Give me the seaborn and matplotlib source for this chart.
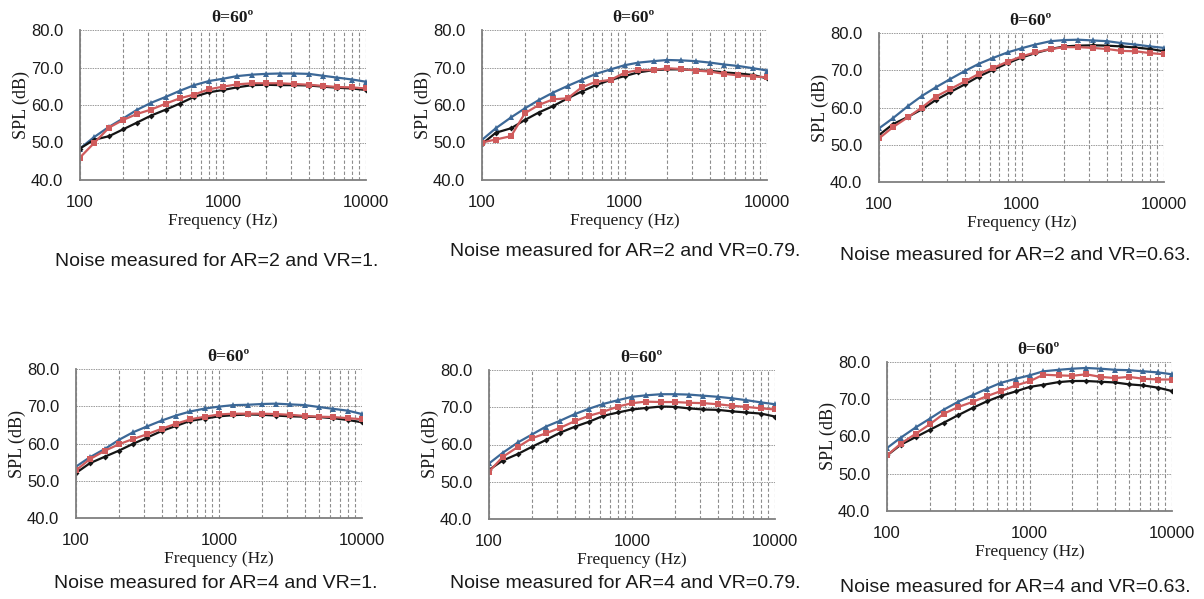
import numpy as np
import pandas as pd
import seaborn as sns
import matplotlib
matplotlib.use("Agg")
import matplotlib.pyplot as plt
from matplotlib.ticker import LogLocator, FixedLocator, NullFormatter

# set the theme to seaborn (white, we draw our own grid)
sns.set_theme(style="white")
plt.rcParams['font.family'] = ['Liberation Sans', 'DejaVu Sans']

# 1/3 octave band centre frequencies
freq = [100, 125, 160, 200, 250, 315, 400, 500, 630, 800, 1000,
        1250, 1600, 2000, 2500, 3150, 4000, 5000, 6300, 8000, 10000]

# AR=2, VR=1
ar2_vr1_blue = [48.4, 51.4, 54.2, 56.4, 58.7, 60.6, 62.2, 63.8, 65.3, 66.4, 67.0,
                67.7, 68.1, 68.3, 68.4, 68.4, 68.3, 67.8, 67.3, 66.8, 66.2]
ar2_vr1_red = [46.0, 49.8, 54.0, 56.0, 57.6, 58.8, 60.4, 61.8, 62.8, 64.2, 64.9,
               65.5, 65.8, 65.8, 65.8, 65.6, 65.4, 65.1, 64.8, 64.7, 64.4]
ar2_vr1_black = [48.4, 50.7, 51.7, 53.5, 55.3, 57.2, 58.8, 60.4, 62.2, 63.4, 64.0,
                 64.7, 65.3, 65.4, 65.3, 65.3, 65.2, 64.9, 64.6, 64.4, 64.0]

# AR=2, VR=0.79
ar2_vr079_blue = [50.7, 53.8, 56.7, 59.1, 61.3, 63.3, 65.1, 66.7, 68.3, 69.5, 70.6,
                  71.3, 71.7, 72.0, 71.9, 71.7, 71.3, 70.8, 70.4, 69.8, 69.2]
ar2_vr079_red = [50.0, 50.8, 51.7, 57.8, 60.0, 61.5, 61.8, 64.7, 66.2, 66.7, 68.6,
                 69.3, 69.3, 69.8, 69.6, 69.2, 68.9, 68.3, 67.9, 67.6, 67.4]
ar2_vr079_black = [49.6, 52.6, 53.8, 56.0, 58.0, 59.7, 61.8, 63.6, 65.3, 66.7, 67.7,
                   68.7, 69.3, 69.5, 69.5, 69.3, 69.1, 68.7, 68.4, 68.0, 67.1]

# AR=2, VR=0.63
ar2_vr063_blue = [54.4, 57.1, 60.4, 63.1, 65.4, 67.6, 69.8, 71.7, 73.3, 74.8, 75.9,
                  76.9, 77.8, 78.1, 78.2, 78.0, 77.8, 77.3, 76.9, 76.4, 76.0]
ar2_vr063_red = [51.7, 54.7, 57.4, 60.0, 62.9, 64.9, 67.0, 69.0, 70.6, 72.3, 73.7,
                 74.8, 75.7, 76.2, 76.2, 76.0, 75.7, 75.2, 75.1, 74.6, 74.3]
ar2_vr063_black = [52.6, 55.5, 57.5, 59.5, 62.0, 64.1, 66.2, 68.3, 70.1, 71.9, 73.4,
                   74.6, 75.7, 76.4, 76.6, 76.7, 76.6, 76.4, 76.1, 75.7, 75.1]

# AR=4, VR=1
ar4_vr1_blue = [53.8, 56.3, 58.6, 61.0, 63.0, 64.6, 66.2, 67.5, 68.6, 69.4, 69.9,
                70.3, 70.4, 70.6, 70.7, 70.5, 70.3, 69.8, 69.3, 68.8, 67.9]
ar4_vr1_red = [52.8, 55.8, 58.1, 59.8, 61.2, 62.5, 64.0, 65.3, 66.5, 67.2, 67.8,
               68.0, 68.0, 68.0, 67.9, 67.7, 67.4, 67.2, 67.1, 66.8, 66.5]
ar4_vr1_black = [52.1, 54.7, 56.5, 58.1, 59.9, 61.6, 63.4, 64.7, 66.1, 66.7, 67.3,
                 67.6, 67.8, 67.7, 67.5, 67.3, 67.2, 67.1, 66.8, 66.3, 65.7]

# AR=4, VR=0.79
ar4_vr079_blue = [54.9, 57.8, 60.6, 62.7, 64.8, 66.4, 68.2, 69.6, 70.9, 71.9, 72.8,
                  73.2, 73.5, 73.5, 73.4, 73.1, 72.8, 72.4, 71.9, 71.3, 70.8]
ar4_vr079_red = [52.7, 56.7, 59.4, 61.7, 63.0, 64.5, 66.3, 67.7, 68.8, 70.2, 71.1,
                 71.5, 71.4, 71.4, 71.2, 71.1, 70.8, 70.4, 70.1, 69.7, 69.4]
ar4_vr079_black = [53.2, 55.7, 57.5, 59.4, 61.2, 63.2, 64.8, 66.1, 67.7, 68.6, 69.4,
                   69.8, 70.2, 70.1, 69.7, 69.4, 69.3, 68.9, 68.6, 68.3, 67.5]

# AR=4, VR=0.63
ar4_vr063_blue = [56.9, 59.7, 62.5, 64.8, 67.2, 69.3, 71.1, 72.8, 74.4, 75.5, 76.4,
                  77.5, 77.9, 78.2, 78.4, 78.2, 77.9, 77.8, 77.5, 77.2, 76.7]
ar4_vr063_red = [54.9, 58.1, 60.8, 63.3, 66.1, 67.9, 69.3, 70.8, 72.2, 73.7, 74.8,
                 76.6, 76.4, 76.3, 76.7, 76.0, 75.7, 76.0, 75.5, 75.3, 75.3]
ar4_vr063_black = [54.9, 57.8, 59.9, 61.8, 63.7, 65.7, 67.7, 69.4, 70.9, 72.1, 73.3,
                   73.9, 74.6, 74.9, 74.9, 74.7, 74.5, 74.0, 73.7, 73.1, 72.2]

captions = ["Noise measured for AR=2 and VR=1.",
            "Noise measured for AR=2 and VR=0.79.",
            "Noise measured for AR=2 and VR=0.63.",
            "Noise measured for AR=4 and VR=1.",
            "Noise measured for AR=4 and VR=0.79.",
            "Noise measured for AR=4 and VR=0.63."]

panels = [(ar2_vr1_blue, ar2_vr1_red, ar2_vr1_black),
          (ar2_vr079_blue, ar2_vr079_red, ar2_vr079_black),
          (ar2_vr063_blue, ar2_vr063_red, ar2_vr063_black),
          (ar4_vr1_blue, ar4_vr1_red, ar4_vr1_black),
          (ar4_vr079_blue, ar4_vr079_red, ar4_vr079_black),
          (ar4_vr063_blue, ar4_vr063_red, ar4_vr063_black)]

W, H = 1204, 599
# axes boxes in pixels: left, right, top, bottom
boxes = [(80, 366, 30, 180), (482, 767, 30, 180), (879, 1164, 33, 182),
         (76, 362, 369, 518), (489, 775, 370, 519), (887, 1172, 362, 511)]
# caption centre (x, y) in pixels
cap_pos = [(217, 262), (625, 251), (1015, 255), (216, 584), (625, 584), (1015, 588)]

c_blue = '#3c6897'
c_red = '#cf5b5c'
c_black = '#151515'
grid_c = '#8c8c8c'

fig = plt.figure(figsize=(W / 100, H / 100), dpi=100)

for i, (blue, red, black) in enumerate(panels):
    l, r, t, b = boxes[i]
    ax = fig.add_axes([l / W, 1 - b / H, (r - l) / W, (b - t) / H])

    sns.lineplot(x=freq, y=blue, ax=ax, color=c_blue, marker='^', markersize=4.5,
                 markeredgewidth=0, linewidth=1.6)
    sns.lineplot(x=freq, y=black, ax=ax, color=c_black, marker='D', markersize=3,
                 markeredgewidth=0, linewidth=1.6)
    sns.lineplot(x=freq, y=red, ax=ax, color=c_red, marker='s', markersize=4.5,
                 markeredgewidth=0, linewidth=1.6)

    ax.set_xscale('log')
    ax.set_xlim(100, 10000)
    ax.set_ylim(40, 80)
    ax.set_yticks([40, 50, 60, 70, 80])
    ax.set_yticklabels(['40.0', '50.0', '60.0', '70.0', '80.0'])
    ax.xaxis.set_major_locator(FixedLocator([100, 1000, 10000]))
    ax.set_xticklabels(['100', '1000', '10000'])
    ax.xaxis.set_minor_locator(LogLocator(base=10, subs=np.arange(2, 10)))
    ax.xaxis.set_minor_formatter(NullFormatter())

    # dashed gray grid
    ax.grid(True, which='major', axis='y', color='#9a9a9a', linestyle=(0, (1.5, 1)), linewidth=0.7)
    ax.grid(True, which='both', axis='x', color=grid_c, linestyle=(0, (3, 2)), linewidth=0.8)
    ax.set_axisbelow(True)
    for side in ['top', 'right']:
        ax.spines[side].set_visible(False)
    for side in ['left', 'bottom']:
        ax.spines[side].set_color('#7f7f7f')
        ax.spines[side].set_linewidth(1.3)
    ax.tick_params(axis='y', which='both', length=0, labelsize=12,
                   colors='#1a1a1a', pad=12)
    ax.tick_params(axis='x', which='both', length=0, labelsize=12,
                   colors='#1a1a1a', pad=11)

    ax.set_xlabel('Frequency (Hz)', family=['Liberation Serif'], fontsize=12.5,
                  color='#1a1a1a', labelpad=2)
    ax.set_ylabel('SPL (dB)', family=['Liberation Serif'], fontsize=13,
                  color='#1a1a1a', labelpad=1)

    # title a bit right of centre as in the reference
    fig.text((l + r) / 2 / W + 9 / W, 1 - (t - 12) / H, 'θ=60º',
             family=['Liberation Serif'], fontweight='bold', fontsize=12.5,
             ha='center', va='center', color='#1a1a1a')

    cx, cy = cap_pos[i]
    fig.text(cx / W, 1 - cy / H, captions[i], fontsize=14, ha='center',
             va='center', color='#1a1a1a')

plt.savefig('out.png', dpi=100)
